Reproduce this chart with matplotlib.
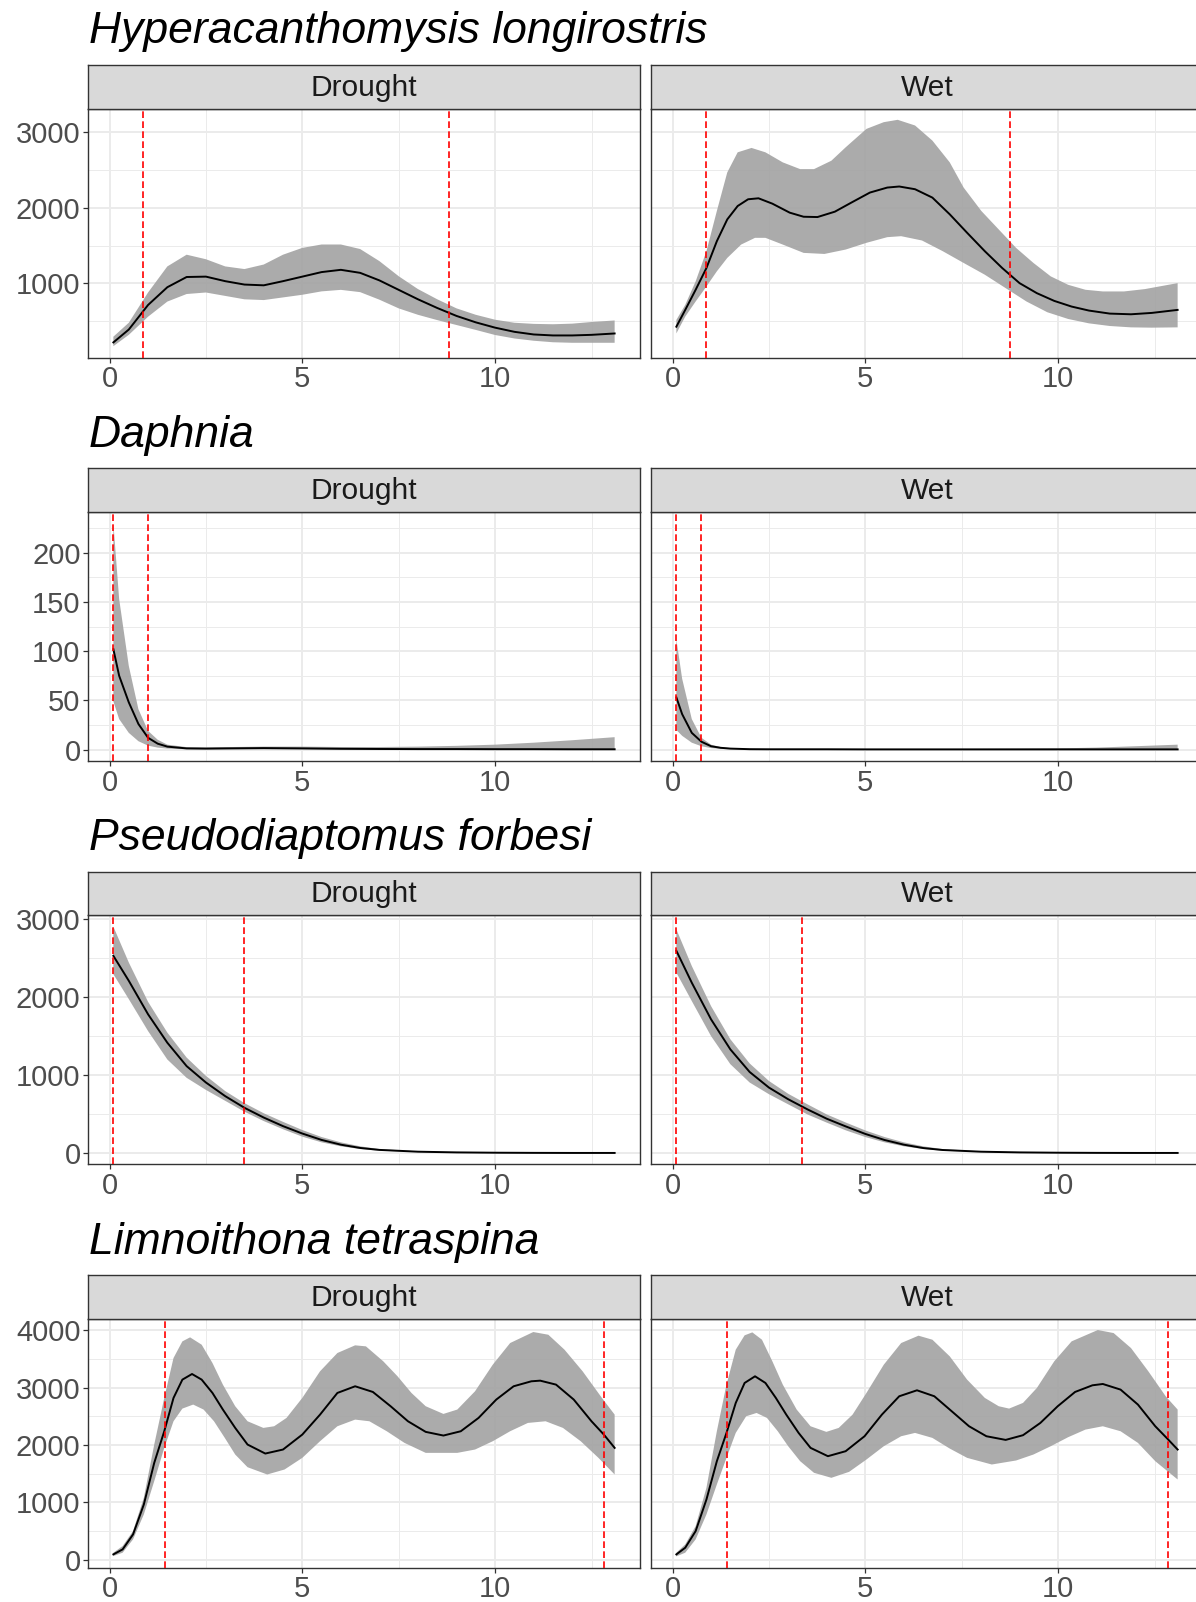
import numpy as np
import matplotlib.pyplot as plt

plt.rcParams['font.family'] = ['Liberation Sans', 'DejaVu Sans']

# ---- data ----
conditions = ['Drought', 'Wet']
x_ticks = [0, 5, 10]

# Hyperacanthomysis longirostris, Drought (one x grid for fit and band)
hyper_d_x = [0.1, 0.5, 1, 1.5, 2, 2.5, 3, 3.5, 4, 4.5, 5, 5.5, 6, 6.5, 7, 7.5, 8, 8.5, 9, 9.5,
             10, 10.5, 11, 11.5, 12, 12.5, 13.1]
hyper_d_fit = [220, 390, 715, 950, 1085, 1090, 1030, 985, 975, 1030, 1090, 1150, 1180, 1140,
               1040, 915, 790, 675, 570, 485, 415, 360, 325, 312, 312, 320, 338]
hyper_d_hi = [295, 480, 880, 1225, 1380, 1320, 1225, 1190, 1250, 1380, 1470, 1515, 1515, 1455,
              1295, 1095, 925, 790, 670, 585, 520, 480, 465, 460, 468, 490, 510]
hyper_d_lo = [170, 320, 560, 760, 860, 880, 835, 790, 780, 815, 850, 895, 915, 885,
              785, 670, 585, 515, 450, 385, 318, 272, 242, 222, 215, 215, 215]

# Hyperacanthomysis longirostris, Wet
hyper_w_fit_x = [0.1, 0.33, 0.60, 0.88, 1.15, 1.42, 1.69, 1.96, 2.23, 2.59, 3.04, 3.40, 3.76, 4.21,
                 4.67, 5.12, 5.57, 5.88, 6.29, 6.74, 7.19, 7.64, 8.10, 8.55, 9.00, 9.45, 9.90,
                 10.35, 10.80, 11.34, 11.89, 12.43, 13.1]
hyper_w_fit = [428, 650, 916, 1204, 1559, 1847, 2024, 2113, 2126, 2055, 1936, 1882, 1878, 1949,
               2078, 2202, 2268, 2282, 2246, 2135, 1914, 1670, 1426, 1204, 1004, 871, 769,
               694, 641, 601, 592, 610, 650]
hyper_w_hi_x = [0.1, 0.33, 0.60, 0.88, 1.15, 1.42, 1.69, 2.05, 2.41, 2.86, 3.31, 3.67, 4.12, 4.49,
                5.03, 5.48, 5.84, 6.29, 6.74, 7.19, 7.55, 8.01, 8.46, 8.91, 9.36, 9.81, 10.26,
                10.71, 11.16, 11.71, 12.25, 13.1]
hyper_w_hi = [517, 716, 1027, 1426, 1958, 2468, 2734, 2792, 2734, 2601, 2512, 2512, 2623, 2800,
              3044, 3133, 3164, 3089, 2889, 2601, 2268, 1958, 1714, 1470, 1271, 1093, 982,
              916, 894, 894, 925, 1004]
hyper_w_lo_x = [0.1, 0.33, 0.60, 0.88, 1.15, 1.42, 1.78, 2.14, 2.41, 2.86, 3.40, 3.94, 4.49, 5.03,
                5.57, 5.93, 6.47, 7.01, 7.55, 8.10, 8.64, 9.18, 9.72, 10.26, 10.80, 11.34, 11.89,
                12.43, 13.1]
hyper_w_lo = [339, 561, 761, 960, 1160, 1337, 1514, 1603, 1603, 1514, 1404, 1390, 1448, 1537,
              1612, 1625, 1568, 1426, 1271, 1115, 938, 761, 619, 530, 472, 437, 419,
              415, 419]
hyper_vlines = {'Drought': [0.86, 8.80], 'Wet': [0.87, 8.76]}

# Daphnia
daph_x = [0.1, 0.25, 0.5, 0.75, 1, 1.25, 1.5, 2, 2.5, 3, 4, 5, 6, 7, 8, 9, 10, 11, 12, 13.1]
daph_d_fit = [102, 75, 48, 26, 12, 6, 3, 1.2, 1, 1.2, 1.5, 1.2, 0.8, 0.6, 0.5, 0.5, 0.4, 0.4, 0.3, 0.3]
daph_d_hi = [230, 153, 85, 41, 19, 10, 5, 2.5, 2.2, 2.5, 3, 3, 2.6, 2.6, 3, 3.8, 5, 7, 9.5, 12.6]
daph_d_lo = [49, 31, 17, 8.5, 4, 2, 1, 0.3, 0.2, 0.2, 0.3, 0.2, 0.1, 0.1, 0, 0, 0, 0, 0, 0]
daph_w_fit = [53, 36, 17, 8, 3.4, 1.8, 1, 0.4, 0.3, 0.3, 0.3, 0.2, 0.2, 0.2, 0.2, 0.2, 0.2, 0.2, 0.2, 0.2]
daph_w_hi = [112, 72, 31, 12, 5, 2.5, 1.5, 0.8, 0.6, 0.6, 0.6, 0.6, 0.6, 0.6, 0.7, 0.9, 1.2, 2, 3.4, 5]
daph_w_lo = [20, 14, 7, 3.4, 1.5, 0.8, 0.4, 0.1, 0, 0, 0, 0, 0, 0, 0, 0, 0, 0, 0, 0]
daph_vlines = {'Drought': [0.08, 1.0], 'Wet': [0.09, 0.74]}

# Pseudodiaptomus forbesi
pseudo_x = [0.1, 0.5, 1, 1.5, 2, 2.5, 3, 3.5, 4, 4.5, 5, 5.5, 6, 6.5, 7, 8, 9, 10, 11, 12, 13.1]
pseudo_d_fit = [2530, 2210, 1780, 1415, 1115, 905, 730, 580, 455, 345, 250, 168, 107, 65, 40,
                17, 8, 4, 2, 1, 1]
pseudo_d_hi = [2905, 2445, 1940, 1545, 1225, 990, 795, 640, 510, 400, 295, 205, 137, 86, 51,
               21, 10, 5, 3, 2, 2]
pseudo_d_lo = [2295, 1975, 1565, 1200, 965, 810, 670, 530, 410, 305, 210, 137, 86, 51, 30,
               13, 6, 3, 1, 0.5, 0.5]
pseudo_w_fit = [2595, 2185, 1715, 1330, 1040, 840, 690, 560, 440, 340, 245, 167, 107, 64, 39,
                17, 8, 4, 2, 1, 1]
pseudo_w_hi = [2870, 2400, 1885, 1460, 1150, 925, 760, 625, 495, 390, 290, 205, 137, 86, 51,
               21, 10, 5, 2, 1.5, 1.5]
pseudo_w_lo = [2315, 1950, 1500, 1140, 905, 755, 625, 495, 390, 290, 205, 137, 86, 51, 30,
               13, 6, 3, 1, 0.5, 0.5]
pseudo_vlines = {'Drought': [0.08, 3.50], 'Wet': [0.09, 3.37]}

# Limnoithona tetraspina, Drought
limno_d_fit_x = [0.1, 0.34, 0.61, 0.89, 1.16, 1.42, 1.66, 1.89, 2.14, 2.39, 2.67, 2.94, 3.26, 3.58,
                 4.04, 4.50, 5.00, 5.46, 5.91, 6.37, 6.83, 7.29, 7.74, 8.20, 8.66, 9.11, 9.57,
                 10.03, 10.48, 10.94, 11.17, 11.58, 12.04, 12.50, 12.82, 13.1]
limno_d_fit = [93, 180, 441, 963, 1689, 2240, 2821, 3140, 3238, 3140, 2908, 2618, 2298, 2008,
               1851, 1921, 2182, 2530, 2908, 3024, 2925, 2676, 2414, 2229, 2165, 2240, 2472,
               2792, 3024, 3111, 3122, 3053, 2792, 2414, 2182, 1950]
limno_d_hi_x = [0.1, 0.34, 0.61, 0.89, 1.16, 1.42, 1.66, 1.89, 2.09, 2.39, 2.67, 2.94, 3.26, 3.58,
                3.99, 4.27, 4.59, 5.00, 5.46, 5.91, 6.37, 6.65, 7.10, 7.47, 7.83, 8.20, 8.66,
                9.02, 9.48, 9.94, 10.39, 10.99, 11.38, 11.80, 12.27, 12.77, 13.1]
limno_d_hi = [122, 238, 499, 1080, 2008, 2821, 3517, 3807, 3877, 3749, 3430, 3053, 2676, 2414,
              2298, 2327, 2472, 2821, 3285, 3604, 3738, 3720, 3459, 3198, 2908, 2676, 2542,
              2618, 2937, 3401, 3778, 3970, 3923, 3662, 3285, 2821, 2530]
limno_d_lo_x = [0.1, 0.34, 0.61, 0.89, 1.16, 1.42, 1.66, 1.89, 2.17, 2.44, 2.71, 2.99, 3.26, 3.58,
                4.09, 4.54, 5.00, 5.46, 5.91, 6.37, 6.74, 7.19, 7.65, 8.20, 9.02, 9.48, 9.94,
                10.39, 10.85, 11.31, 11.76, 12.22, 12.68, 13.1]
limno_d_lo = [64, 122, 354, 789, 1370, 1950, 2414, 2635, 2705, 2618, 2414, 2124, 1834, 1613,
              1486, 1573, 1776, 2066, 2327, 2443, 2414, 2240, 2037, 1863, 1863, 1921, 2066,
              2240, 2385, 2414, 2298, 2066, 1776, 1486]

# Limnoithona tetraspina, Wet
limno_w_fit_x = [0.1, 0.33, 0.60, 0.88, 1.15, 1.40, 1.64, 1.87, 2.14, 2.41, 2.68, 2.95, 3.27, 3.58,
                 4.03, 4.49, 4.98, 5.43, 5.88, 6.34, 6.79, 7.24, 7.69, 8.14, 8.64, 9.09, 9.54,
                 9.99, 10.44, 10.89, 11.16, 11.62, 12.07, 12.52, 12.83, 13.1]
limno_w_fit = [93, 209, 499, 1050, 1718, 2211, 2734, 3082, 3198, 3082, 2821, 2530, 2211, 1950,
               1805, 1892, 2153, 2530, 2850, 2954, 2850, 2589, 2327, 2153, 2089, 2171, 2385,
               2676, 2925, 3041, 3064, 2966, 2705, 2327, 2113, 1921]
limno_w_hi_x = [0.1, 0.33, 0.60, 0.88, 1.15, 1.40, 1.64, 1.87, 2.07, 2.32, 2.59, 2.86, 3.22, 3.58,
                3.99, 4.31, 4.67, 5.03, 5.48, 5.93, 6.38, 6.74, 7.19, 7.64, 8.10, 8.46, 8.73,
                9.09, 9.45, 9.90, 10.35, 11.03, 11.44, 11.89, 12.34, 12.79, 13.1]
limno_w_hi = [122, 267, 586, 1254, 2240, 3053, 3662, 3912, 3964, 3836, 3459, 3053, 2618, 2327,
              2229, 2298, 2530, 2908, 3401, 3778, 3906, 3836, 3546, 3140, 2821, 2676, 2635,
              2734, 2995, 3459, 3807, 4005, 3952, 3691, 3285, 2850, 2618]
limno_w_lo_x = [0.1, 0.33, 0.60, 0.88, 1.15, 1.40, 1.64, 1.91, 2.18, 2.45, 2.73, 3.00, 3.31, 3.67,
                4.12, 4.58, 5.03, 5.48, 5.93, 6.29, 6.74, 7.19, 7.64, 8.28, 8.91, 9.36, 9.81,
                10.26, 10.71, 11.16, 11.62, 12.07, 12.52, 13.1]
limno_w_lo = [58, 122, 354, 789, 1312, 1776, 2211, 2501, 2559, 2472, 2240, 1979, 1718, 1515,
              1428, 1532, 1747, 1979, 2153, 2211, 2124, 1938, 1776, 1660, 1730, 1834, 1979,
              2136, 2269, 2327, 2240, 2037, 1718, 1399]
limno_vlines = {'Drought': [1.43, 12.82], 'Wet': [1.42, 12.84]}

# (fit_x, fit, lo_x, lo, hi_x, hi) per panel
rows = [
    ('Hyperacanthomysis longirostris',
     {'Drought': (hyper_d_x, hyper_d_fit, hyper_d_x, hyper_d_lo, hyper_d_x, hyper_d_hi),
      'Wet': (hyper_w_fit_x, hyper_w_fit, hyper_w_lo_x, hyper_w_lo, hyper_w_hi_x, hyper_w_hi)},
     hyper_vlines, [1000, 2000, 3000]),
    ('Daphnia',
     {'Drought': (daph_x, daph_d_fit, daph_x, daph_d_lo, daph_x, daph_d_hi),
      'Wet': (daph_x, daph_w_fit, daph_x, daph_w_lo, daph_x, daph_w_hi)},
     daph_vlines, [0, 50, 100, 150, 200]),
    ('Pseudodiaptomus forbesi',
     {'Drought': (pseudo_x, pseudo_d_fit, pseudo_x, pseudo_d_lo, pseudo_x, pseudo_d_hi),
      'Wet': (pseudo_x, pseudo_w_fit, pseudo_x, pseudo_w_lo, pseudo_x, pseudo_w_hi)},
     pseudo_vlines, [0, 1000, 2000, 3000]),
    ('Limnoithona tetraspina',
     {'Drought': (limno_d_fit_x, limno_d_fit, limno_d_lo_x, limno_d_lo, limno_d_hi_x, limno_d_hi),
      'Wet': (limno_w_fit_x, limno_w_fit, limno_w_lo_x, limno_w_lo, limno_w_hi_x, limno_w_hi)},
     limno_vlines, [0, 1000, 2000, 3000, 4000]),
]

# ---- layout in pixels ----
W, H = 1196, 1602
fig = plt.figure(figsize=(W / 100, H / 100), dpi=100)


def rect(left, top, width, height):
    return [left / W, 1 - (top + height) / H, width / W, height / H]


def expand(lo, hi, f=0.05):
    d = (hi - lo) * f
    return lo - d, hi + d


panel_left = [88.3, 651.3]
panel_w = 551.4
strip_h = 43.5
panel_h = 249
row_step = 403.4

for i, (name, series, vlines, yticks) in enumerate(rows):
    strip_top = 65 + row_step * i
    fig.text(89 / W, 1 - (strip_top - 21.5) / H, name, fontsize=32, style='italic',
             va='baseline', ha='left', color='black')

    all_x = [v for c in conditions for v in series[c][0]]
    ymin = min(min(series[c][3]) for c in conditions)
    ymax = max(max(series[c][5]) for c in conditions)
    ylim = expand(ymin, ymax)
    xlim = expand(min(all_x), max(all_x))
    ystep = yticks[1] - yticks[0]
    yminor = np.arange(yticks[0] - ystep / 2, ylim[1], ystep)
    yminor = yminor[(yminor > ylim[0]) & (yminor < ylim[1])]

    for j, cond in enumerate(conditions):
        fx, fy, lx, ly, hx, hy = series[cond]
        ax = fig.add_axes(rect(panel_left[j], strip_top + strip_h, panel_w, panel_h))
        ax.fill(list(hx) + list(lx)[::-1], list(hy) + list(ly)[::-1],
                color='#A2A2A2', alpha=0.9, linewidth=0, zorder=2)
        ax.plot(fx, fy, color='black', lw=1.4, zorder=3, solid_joinstyle='round')
        for v in vlines[cond]:
            ax.axvline(v, color='red', lw=1.2, ls=(0, (4, 2)), zorder=4)

        ax.set_xlim(xlim)
        ax.set_ylim(ylim)
        ax.set_xticks(x_ticks)
        ax.set_xticks([2.5, 7.5, 12.5], minor=True)
        ax.set_yticks(yticks)
        ax.set_yticks(yminor, minor=True)
        ax.grid(which='major', color='#EBEBEB', lw=1.4, zorder=0)
        ax.grid(which='minor', color='#EBEBEB', lw=0.7, zorder=0)
        ax.set_axisbelow(True)
        ax.tick_params(which='minor', length=0)
        ax.tick_params(which='major', length=3.6, width=0.9, color='#333333',
                       labelsize=21, labelcolor='#4D4D4D', pad=2)
        if j == 1:
            ax.tick_params(axis='y', left=False, labelleft=False)
        for s in ax.spines.values():
            s.set_color('#333333')
            s.set_linewidth(1.0)

        sax = fig.add_axes(rect(panel_left[j], strip_top, panel_w, strip_h))
        sax.set_facecolor('#D9D9D9')
        sax.set_xticks([])
        sax.set_yticks([])
        for s in sax.spines.values():
            s.set_color('#333333')
            s.set_linewidth(1.0)
        sax.text(0.5, 0.48, cond, transform=sax.transAxes, ha='center', va='center',
                 fontsize=21.5, color='#1A1A1A')

fig.savefig('out.png', dpi=100)
